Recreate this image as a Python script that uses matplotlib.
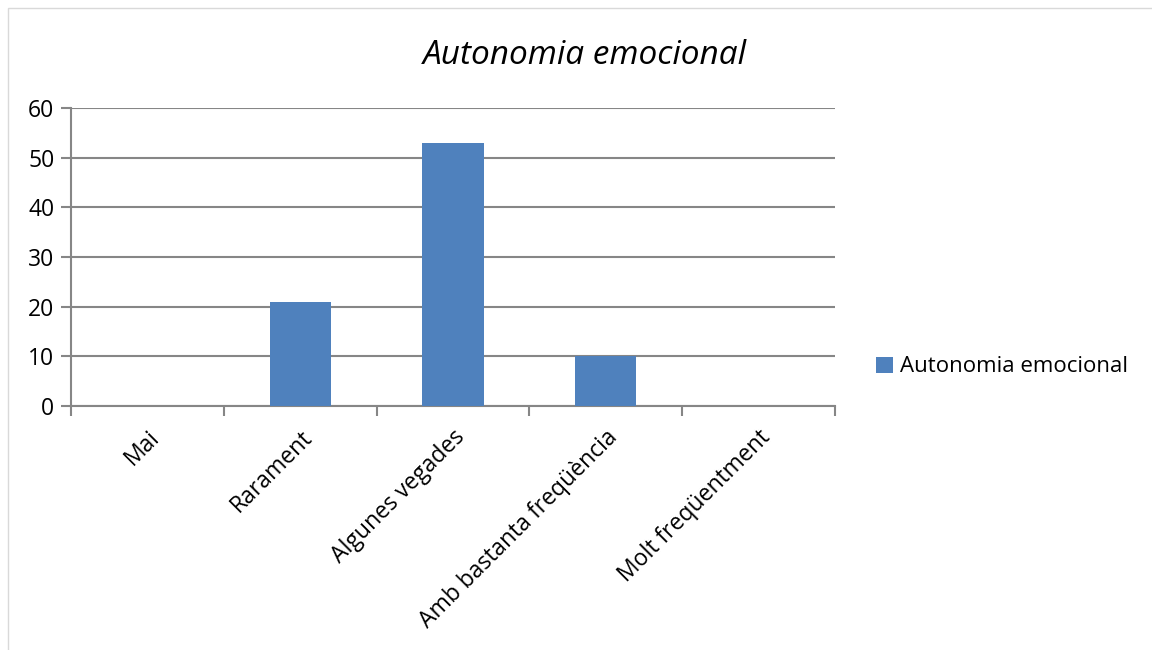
import numpy as np
import matplotlib.pyplot as plt
from matplotlib.patches import Rectangle

# Data
categories = ["Mai", "Rarament", "Algunes vegades", "Amb bastanta freqüència", "Molt freqüentment"]
values = [0, 21, 53, 10, 0]
series_name = "Autonomia emocional"
yticks = [0, 10, 20, 30, 40, 50, 60]

plt.rcParams['font.family'] = ['Open Sans', 'DejaVu Sans']

fig = plt.figure(figsize=(11.52, 6.5), dpi=100)
# light chart-area border
fig.patches.append(Rectangle((8 / 1152, -0.01), 1.0, 1 - 8 / 650 + 0.01, transform=fig.transFigure,
                             fill=False, edgecolor="#d9d9d9", linewidth=1))

ax = fig.add_axes([71 / 1152, 1 - 406 / 650, (835 - 71) / 1152, (406 - 108) / 650])

x = np.arange(len(categories))
ax.bar(x, values, width=0.4, color="#4f81bd", label=series_name, zorder=3)

ax.set_xlim(-0.5, len(categories) - 0.5)
ax.set_ylim(0, 60)
ax.set_yticks(yticks)
ax.yaxis.grid(True, color="#868686", linewidth=1.5, zorder=0)

grey = "#868686"
for side in ["top", "right"]:
    ax.spines[side].set_visible(False)
for side in ["left", "bottom"]:
    ax.spines[side].set_color(grey)
    ax.spines[side].set_linewidth(1.5)

ax.set_xticks(x)
ax.set_xticklabels(categories, rotation=45, ha="right", rotation_mode="anchor", fontsize=16.5)
ax.tick_params(axis="x", length=0, pad=14)
ax.set_xticks(np.arange(len(categories) + 1) - 0.5, minor=True)
ax.tick_params(axis="x", which="minor", length=7, width=1.5, color=grey)
ax.tick_params(axis="y", length=7, width=1.5, color=grey, labelsize=16.5, pad=5)

ax.text((585 - 71) / (835 - 71), 1 + (108 - 55) / (406 - 108), series_name, transform=ax.transAxes,
        fontsize=24, style="italic", ha="center", va="center")

ax.legend(loc="center left", bbox_to_anchor=(856 / 1152, 1 - 367 / 650), bbox_transform=fig.transFigure,
          frameon=False, fontsize=16, handlelength=0.75, handleheight=0.75, handletextpad=0.35)

fig.savefig("out.png", dpi=100)
